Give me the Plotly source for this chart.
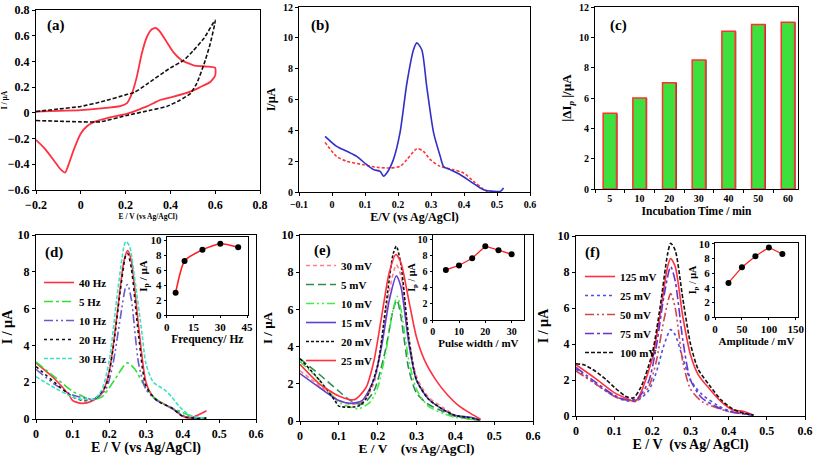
import plotly.graph_objects as go

# ---------------- data ----------------
# (a) cyclic voltammograms
a_red_x = [-0.2, -0.1, 0.0, 0.09, 0.176, 0.205, 0.228, 0.25, 0.272, 0.295, 0.317, 0.335, 0.354, 0.384, 0.414, 0.45, 0.503, 0.563, 0.6,
           0.6, 0.578, 0.533, 0.489, 0.414, 0.354, 0.325, 0.295, 0.25, 0.2, 0.13, 0.06, 0.03, 0.0, -0.03, -0.05, -0.07, -0.09, -0.12, -0.16, -0.2]
a_red_y = [0.01, 0.015, 0.022, 0.035, 0.053, 0.074, 0.15, 0.28, 0.46, 0.59, 0.65, 0.66, 0.63, 0.55, 0.47, 0.41, 0.37, 0.36, 0.35,
           0.29, 0.24, 0.2, 0.165, 0.126, 0.1, 0.075, 0.05, 0.02, -0.01, -0.035, -0.07, -0.1, -0.16, -0.28, -0.38, -0.465, -0.44, -0.37, -0.28, -0.21]
a_blk_x = [-0.2, -0.1, 0.0, 0.086, 0.205, 0.31, 0.384, 0.444, 0.489, 0.518, 0.556, 0.578, 0.6,
           0.55, 0.5, 0.46, 0.4, 0.3, 0.24, 0.2, 0.1, 0.0, -0.1, -0.2]
a_blk_y = [-0.06, -0.065, -0.07, -0.07, -0.02, 0.02, 0.05, 0.1, 0.15, 0.23, 0.41, 0.54, 0.72,
           0.58, 0.48, 0.41, 0.35, 0.23, 0.16, 0.14, 0.09, 0.05, 0.03, 0.01]

# (b) DPV
b_blue_x = [-0.021, 0.014, 0.045, 0.075, 0.105, 0.126, 0.146, 0.156, 0.166, 0.186, 0.206, 0.227, 0.247, 0.257, 0.272, 0.287, 0.308,
            0.328, 0.338, 0.358, 0.389, 0.419, 0.449, 0.459, 0.49, 0.51, 0.52]
b_blue_y = [3.61, 2.96, 2.64, 2.31, 1.77, 1.45, 1.34, 1.02, 1.23, 2.1, 3.83, 7.07, 9.23, 9.67, 9.23, 6.85, 3.83,
            2.31, 1.66, 1.45, 1.12, 0.69, 0.26, 0.15, 0.04, 0.04, 0.26]
b_red_x = [-0.021, 0.014, 0.045, 0.095, 0.136, 0.176, 0.206, 0.227, 0.257, 0.277, 0.298, 0.328, 0.368, 0.399, 0.429, 0.454, 0.47, 0.51]
b_red_y = [3.22, 2.31, 1.99, 1.77, 1.6, 1.56, 1.66, 2.1, 2.81, 2.64, 2.1, 1.66, 1.45, 1.23, 0.69, 0.26, 0.04, 0.0]

# (c) incubation time
c_cats = ["5", "10", "20", "30", "40", "50", "60"]
c_vals = [5.0, 6.0, 7.0, 8.5, 10.4, 10.85, 11.0]

# (d) frequency
d_names = ["40 Hz", "5 Hz", "10 Hz", "20 Hz", "30 Hz"]
d_x = {
    "40 Hz": [0, 0.05, 0.09, 0.1, 0.125, 0.15, 0.18, 0.2, 0.22, 0.24, 0.25, 0.26, 0.28, 0.3, 0.32, 0.35, 0.38, 0.4, 0.42, 0.44, 0.465],
    "5 Hz": [0, 0.05, 0.1, 0.12, 0.15, 0.18, 0.2, 0.22, 0.24, 0.25, 0.27, 0.29, 0.32, 0.35, 0.4, 0.43, 0.465],
    "10 Hz": [0, 0.05, 0.1, 0.13, 0.16, 0.19, 0.21, 0.23, 0.245, 0.25, 0.26, 0.28, 0.3, 0.33, 0.37, 0.4, 0.43, 0.465],
    "20 Hz": [0, 0.05, 0.1, 0.13, 0.16, 0.19, 0.21, 0.23, 0.245, 0.25, 0.26, 0.28, 0.3, 0.33, 0.37, 0.4, 0.43, 0.465],
    "30 Hz": [0, 0.05, 0.1, 0.13, 0.16, 0.18, 0.2, 0.22, 0.24, 0.245, 0.255, 0.27, 0.29, 0.3, 0.32, 0.35, 0.37, 0.39, 0.42, 0.465],
}
d_y = {
    "40 Hz": [3.05, 2.2, 1.3, 1.0, 0.85, 0.95, 1.4, 2.6, 5.5, 8.6, 9.15, 8.6, 5.0, 2.0, 1.2, 0.8, 0.45, 0.15, 0.05, 0.2, 0.45],
    "5 Hz": [3.1, 2.3, 1.5, 1.3, 1.05, 1.2, 1.7, 2.3, 2.9, 3.05, 2.7, 2.0, 1.2, 0.8, 0.35, 0.1, 0.05],
    "10 Hz": [2.7, 1.9, 1.3, 1.15, 1.1, 1.6, 3.0, 5.5, 7.2, 7.3, 6.5, 3.0, 1.6, 1.0, 0.6, 0.2, 0.05, 0.05],
    "20 Hz": [2.85, 2.0, 1.2, 1.0, 1.1, 1.8, 3.8, 7.0, 8.9, 9.0, 8.2, 4.5, 1.8, 1.0, 0.6, 0.15, 0.05, 0.05],
    "30 Hz": [2.3, 1.7, 1.2, 1.05, 1.1, 1.6, 3.2, 6.5, 9.4, 9.65, 9.4, 7.5, 4.5, 3.0, 2.0, 1.6, 1.2, 0.7, 0.2, 0.05],
}
d_inset_x = [5, 10, 20, 30, 40]
d_inset_y = [2.95, 7.2, 8.7, 9.5, 9.05]

# (e) pulse width
e_names = ["30 mV", "5 mV", "10 mV", "15 mV", "20 mV", "25 mV"]
e_x = {
    "30 mV": [0, 0.05, 0.1, 0.13, 0.16, 0.19, 0.21, 0.23, 0.248, 0.26, 0.28, 0.3, 0.33, 0.37, 0.4, 0.44, 0.465],
    "5 mV": [0, 0.05, 0.1, 0.13, 0.16, 0.19, 0.22, 0.24, 0.25, 0.26, 0.28, 0.3, 0.33, 0.37, 0.4, 0.465],
    "10 mV": [0, 0.05, 0.1, 0.13, 0.15, 0.18, 0.2, 0.22, 0.24, 0.25, 0.26, 0.28, 0.3, 0.33, 0.37, 0.4, 0.465],
    "15 mV": [0, 0.05, 0.1, 0.13, 0.16, 0.19, 0.21, 0.23, 0.248, 0.26, 0.28, 0.3, 0.33, 0.37, 0.4, 0.44, 0.465],
    "20 mV": [0, 0.05, 0.09, 0.1, 0.15, 0.17, 0.2, 0.22, 0.24, 0.248, 0.26, 0.28, 0.3, 0.33, 0.37, 0.4, 0.43, 0.465],
    "25 mV": [0, 0.05, 0.1, 0.14, 0.17, 0.19, 0.21, 0.23, 0.247, 0.26, 0.28, 0.3, 0.32, 0.35, 0.38, 0.41, 0.44, 0.465],
}
e_y = {
    "30 mV": [2.7, 1.9, 1.1, 0.9, 1.0, 2.0, 4.2, 7.0, 8.4, 7.8, 4.5, 2.4, 1.3, 0.7, 0.3, 0.1, 0.05],
    "5 mV": [3.35, 2.5, 1.6, 1.1, 0.9, 1.6, 3.8, 6.0, 6.5, 5.6, 2.8, 1.5, 0.9, 0.5, 0.25, 0.05],
    "10 mV": [3.2, 2.2, 1.0, 0.75, 0.65, 1.0, 1.8, 3.6, 6.0, 6.7, 6.0, 3.3, 1.7, 0.8, 0.4, 0.2, 0.05],
    "15 mV": [2.55, 1.8, 1.1, 0.95, 1.1, 2.2, 4.0, 6.5, 7.8, 7.2, 4.2, 2.2, 1.2, 0.6, 0.3, 0.2, 0.05],
    "20 mV": [3.35, 2.2, 1.1, 0.8, 0.8, 1.2, 3.0, 6.0, 9.0, 9.4, 8.4, 4.5, 2.2, 1.2, 0.6, 0.3, 0.2, 0.05],
    "25 mV": [3.05, 2.0, 1.35, 1.15, 1.8, 3.2, 5.6, 8.0, 8.95, 8.5, 6.5, 4.5, 3.3, 2.2, 1.4, 0.8, 0.4, 0.1],
}
e_inset_x = [5, 10, 15, 20, 25, 30]
e_inset_y = [6.25, 6.8, 7.7, 9.2, 8.7, 8.2]

# (f) amplitude
f_names = ["125 mV", "25 mV", "50 mV", "75 mV", "100 mV"]
f_x = {
    "125 mV": [0, 0.05, 0.1, 0.13, 0.155, 0.17, 0.2, 0.22, 0.24, 0.248, 0.26, 0.28, 0.3, 0.32, 0.35, 0.38, 0.41, 0.44, 0.465],
    "25 mV": [0, 0.05, 0.1, 0.13, 0.16, 0.19, 0.21, 0.23, 0.248, 0.26, 0.28, 0.3, 0.33, 0.37, 0.4, 0.465],
    "50 mV": [0, 0.05, 0.1, 0.13, 0.16, 0.19, 0.21, 0.23, 0.248, 0.26, 0.28, 0.3, 0.33, 0.37, 0.4, 0.465],
    "75 mV": [0, 0.05, 0.1, 0.13, 0.16, 0.19, 0.21, 0.23, 0.248, 0.26, 0.28, 0.3, 0.33, 0.37, 0.4, 0.465],
    "100 mV": [0, 0.02, 0.05, 0.08, 0.1, 0.13, 0.15, 0.17, 0.2, 0.22, 0.24, 0.248, 0.26, 0.28, 0.3, 0.32, 0.35, 0.38, 0.41, 0.44, 0.465],
}
f_y = {
    "125 mV": [2.85, 2.1, 1.3, 1.0, 0.8, 1.3, 3.2, 5.6, 8.3, 8.75, 8.3, 5.5, 3.4, 2.3, 1.5, 0.8, 0.35, 0.25, 0.05],
    "25 mV": [2.6, 1.8, 1.1, 0.85, 0.85, 1.4, 2.4, 3.9, 4.8, 4.5, 3.2, 2.0, 1.2, 0.6, 0.3, 0.05],
    "50 mV": [2.5, 1.8, 1.1, 0.9, 0.9, 1.6, 3.0, 5.3, 6.8, 6.0, 3.0, 1.5, 0.8, 0.45, 0.25, 0.05],
    "75 mV": [2.7, 1.9, 1.15, 0.9, 0.95, 1.9, 3.8, 6.6, 8.3, 7.5, 4.2, 2.0, 1.0, 0.5, 0.25, 0.05],
    "100 mV": [2.9, 2.85, 2.5, 2.0, 1.6, 1.1, 1.0, 1.6, 3.5, 6.0, 9.0, 9.6, 9.2, 6.5, 4.0, 2.6, 1.7, 0.9, 0.4, 0.15, 0.05],
}
f_inset_x = [25, 50, 75, 100, 125]
f_inset_y = [4.65, 6.8, 8.3, 9.5, 8.6]

# ---------------- styles ----------------
FONT = "Liberation Serif"
RED = "#ff3040"
d_style = {"40 Hz": (RED, "solid"), "5 Hz": ("#33e033", "dashdot"), "10 Hz": ("#6a5acd", "9px,3px,2px,3px,2px,3px"),
           "20 Hz": ("#111111", "dot"), "30 Hz": ("#40e0c0", "4px,2px")}
e_style = {"30 mV": ("#ff8080", "4px,3px"), "5 mV": ("#2e8b57", "8px,4px"), "10 mV": ("#40ee40", "8px,3px,2px,3px,2px,3px"),
           "15 mV": ("#6040d0", "solid"), "20 mV": ("#111111", "3px,2px"), "25 mV": (RED, "solid")}
f_style = {"125 mV": (RED, "solid"), "25 mV": ("#5050e0", "dot"), "50 mV": ("#d04848", "9px,3px,2px,3px,2px,3px"),
           "75 mV": ("#6633cc", "dashdot"), "100 mV": ("#111111", "4px,2px")}

fig = go.Figure()

def line(x, y, xa, ya, color, dash="solid", width=1.6, name=None, legend=None, show=False, smooth=0.7):
    fig.add_trace(go.Scatter(x=x, y=y, xaxis=xa, yaxis=ya, mode="lines", name=name,
                             line=dict(color=color, dash=dash, width=width, shape="spline", smoothing=smooth),
                             showlegend=show, legend=legend, legendgroup=name))

# (a)
line(a_red_x, a_red_y, "x", "y", RED, width=1.8, smooth=0.5)
line(a_blk_x, a_blk_y, "x", "y", "#111111", dash="4px,2px", width=1.6, smooth=0.5)
# (b)
line(b_red_x, b_red_y, "x2", "y2", "#ff3333", dash="3px,2px", width=1.6)
line(b_blue_x, b_blue_y, "x2", "y2", "#3030c8", width=1.6)
# (c) bars with a dark edge
fig.add_trace(go.Bar(x=c_cats, y=c_vals, xaxis="x3", yaxis="y3", width=0.45, offset=-0.19, showlegend=False,
                     marker=dict(color="#1c3a1c", line=dict(width=0)), hoverinfo="skip"))
fig.add_trace(go.Bar(x=c_cats, y=c_vals, xaxis="x3", yaxis="y3", width=0.45, offset=-0.225, showlegend=False,
                     marker=dict(color="#3ee03e", line=dict(color="#ff3030", width=1.5))))
# (d)
for n in d_names:
    c, dsh = d_style[n]
    line(d_x[n], d_y[n], "x4", "y4", c, dsh, 1.6, n, "legend", True)
# (e)
for n in e_names:
    c, dsh = e_style[n]
    line(e_x[n], e_y[n], "x5", "y5", c, dsh, 1.6, n, "legend2", True)
# (f)
for n in f_names:
    c, dsh = f_style[n]
    line(f_x[n], f_y[n], "x6", "y6", c, dsh, 1.6, n, "legend3", True)
# insets
fig.add_trace(go.Scatter(x=d_inset_x, y=d_inset_y, xaxis="x7", yaxis="y7", mode="lines+markers", showlegend=False,
                         line=dict(color="#ff2020", width=1.6, shape="spline", smoothing=0.6),
                         marker=dict(color="black", size=6)))
fig.add_trace(go.Scatter(x=e_inset_x, y=e_inset_y, xaxis="x8", yaxis="y8", mode="lines+markers", showlegend=False,
                         line=dict(color="#ff2020", width=1.3), marker=dict(color="black", size=6)))
fig.add_trace(go.Scatter(x=f_inset_x, y=f_inset_y, xaxis="x9", yaxis="y9", mode="lines+markers", showlegend=False,
                         line=dict(color="#ff2020", width=1.3), marker=dict(color="black", size=6)))

W, H = 813, 456
def dom_x(p0, p1):
    return [p0 / W, p1 / W]
def dom_y(top, bottom):
    return [1 - bottom / H, 1 - top / H]

def axis(domain, rng, anchor, dtick=None, title="", tsize=11, fsize=10, standoff=4, **kw):
    d = dict(domain=domain, range=rng, anchor=anchor, showline=True, linecolor="black", linewidth=1.2,
             mirror=True, ticks="outside", ticklen=3, tickcolor="black", showgrid=False, zeroline=False,
             automargin=False, ticklabeloverflow="allow",
             tickfont=dict(family=FONT, size=tsize, color="black", weight="bold"),
             title=dict(text=title, font=dict(family=FONT, size=fsize, color="black", weight="bold"), standoff=standoff))
    if dtick is not None:
        d["dtick"] = dtick
        d["tick0"] = 0
    d.update(kw)
    return d

LEGFONT = dict(family=FONT, size=11, color="black", weight="bold")
layout = dict(
    template="none",
    width=W, height=H, margin=dict(l=0, r=0, t=0, b=0),
    paper_bgcolor="white", plot_bgcolor="rgba(0,0,0,0)",
    font=dict(family=FONT, color="black"),
    barmode="overlay",
    xaxis=axis(dom_x(36, 260), [-0.2, 0.8], "y", 0.2, "E / V (vs Ag/AgCl)", 12, 7.5, 3),
    yaxis=axis(dom_y(10, 190), [-0.6, 0.8], "x", 0.2, "I / µA", 12, 7.5, 5),
    xaxis2=axis(dom_x(299, 530), [-0.1, 0.6], "y2", 0.1, "E/V (vs Ag/AgCl)", 10, 12, 3),
    yaxis2=axis(dom_y(7, 192), [0, 12], "x2", 2, "I/µA", 10, 12, 4),
    xaxis3=axis(dom_x(595, 798), [-0.5, 6.34], "y3", None, "Incubation Time / min", 10, 11.5, 3,
                type="category", tickson="boundaries"),
    yaxis3=axis(dom_y(7, 189), [0, 12], "x3", 2, "|ΔI<i><sub>p</sub></i> |/µA", 10, 13, 4),
    xaxis4=axis(dom_x(36, 256), [0, 0.6], "y4", 0.1, "E / V (vs Ag/AgCl)", 12, 14, 1),
    yaxis4=axis(dom_y(235, 419), [0, 10], "x4", 2, "I / µA", 12, 14, 5),
    xaxis5=axis(dom_x(300, 533), [0, 0.6], "y5", 0.1, "E / V    (vs Ag/AgCl)", 12, 13.5, 1),
    yaxis5=axis(dom_y(235, 421), [0, 10], "x5", 2, "I / µA", 12, 13, 5),
    xaxis6=axis(dom_x(576, 805), [0, 0.6], "y6", 0.1, "E / V  (vs Ag/ AgCl)", 12, 14, 1),
    yaxis6=axis(dom_y(236, 416), [0, 10], "x6", 2, "I / µA", 12, 14, 5),
    xaxis7=axis(dom_x(166.7, 248), [0, 45.5], "y7", 15, "Frequency/ Hz", 11, 11.5, 0, ticklen=2),
    yaxis7=axis(dom_y(237, 315), [0, 10.4], "x7", 2, "I<sub>p</sub> / µA", 11, 11, 0, ticklen=2),
    xaxis8=axis(dom_x(432.7, 524), [0, 34.7], "y8", 10, "Pulse width / mV", 10, 11, 0, ticklen=2),
    yaxis8=axis(dom_y(235, 320), [0, 10.6], "x8", 2, "I<sub>p</sub> / µA", 10, 10, 0, ticklen=2),
    xaxis9=axis(dom_x(715, 798), [0, 154], "y9", 50, "Amplitude / mV", 11, 11, 0, ticklen=2),
    yaxis9=axis(dom_y(243, 317), [0, 10.1], "x9", 2, "I<sub>p</sub> / µA", 11, 10, 0, ticklen=2),
    legend=dict(x=39 / W, y=1 - 268 / H, xanchor="left", yanchor="top", bgcolor="rgba(0,0,0,0)",
                font=LEGFONT, tracegroupgap=0, itemwidth=30),
    legend2=dict(x=301 / W, y=1 - 251 / H, xanchor="left", yanchor="top", bgcolor="rgba(0,0,0,0)",
                 font=LEGFONT, tracegroupgap=0, itemwidth=30),
    legend3=dict(x=580 / W, y=1 - 262 / H, xanchor="left", yanchor="top", bgcolor="rgba(0,0,0,0)",
                 font=LEGFONT, tracegroupgap=0, itemwidth=30),
)
fig.update_layout(**layout)

labels = [("(a)", 45, 25), ("(b)", 309, 25), ("(c)", 608, 26), ("(d)", 43, 252), ("(e)", 312, 250), ("(f)", 583, 252)]
for t, px, py in labels:
    fig.add_annotation(text=t, x=px / W, y=1 - py / H, xref="paper", yref="paper", showarrow=False,
                       xanchor="left", yanchor="middle", font=dict(family=FONT, size=15, color="black", weight="bold"))

fig.write_html("out.html", config={"displayModeBar": False},
               post_script="document.body.style.margin='0px';document.body.style.overflow='hidden';")
